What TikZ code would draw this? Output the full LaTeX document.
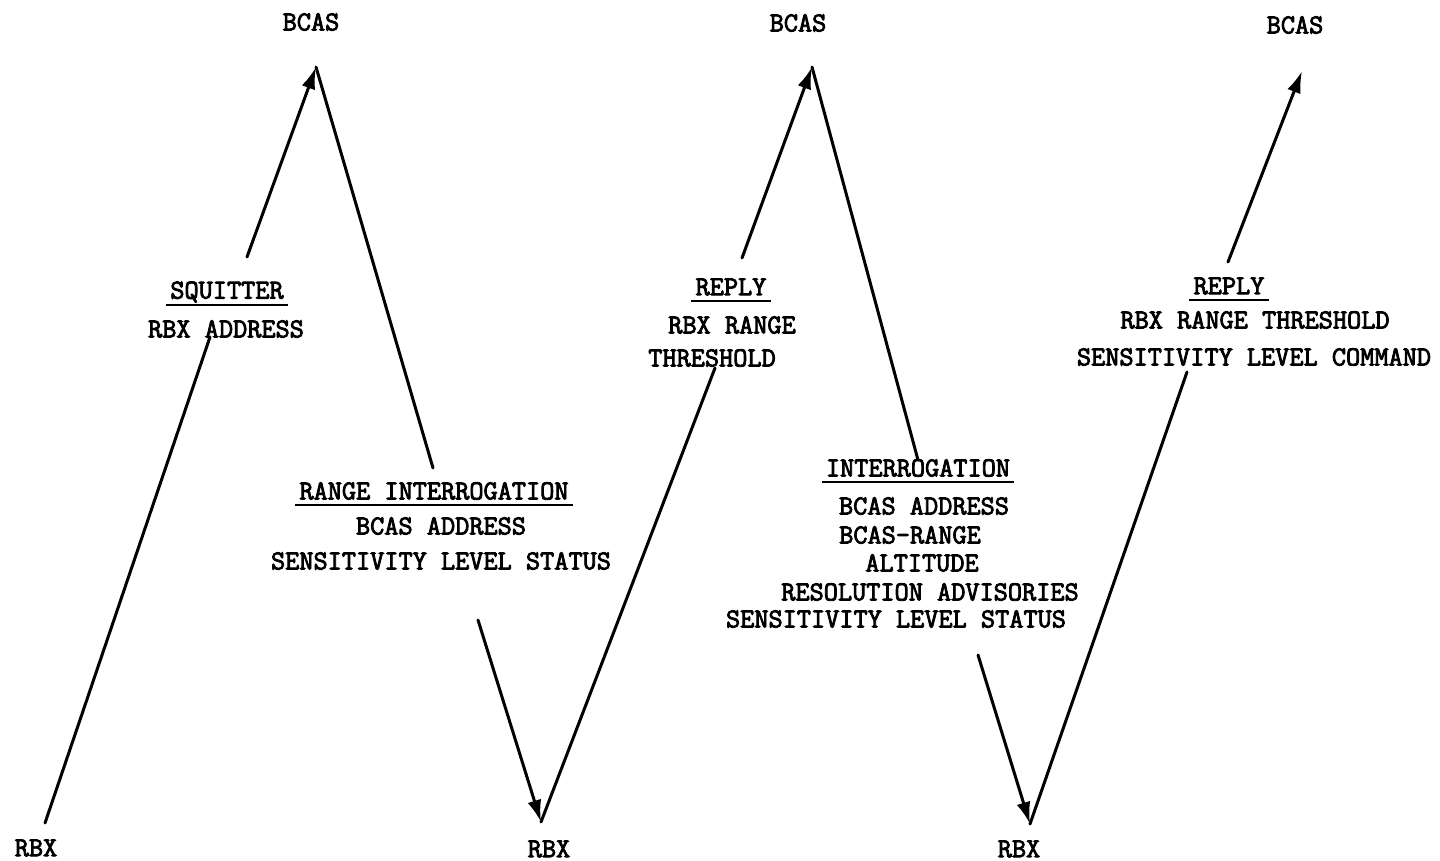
\documentclass[tikz,border=0pt]{standalone}
\usepackage{fontspec}
\setmonofont[FakeBold=3]{Latin Modern Mono}
\usetikzlibrary{arrows.meta}
\begin{document}
\begin{tikzpicture}[x=1pt,y=-1pt,
  lbl/.style={font=\ttfamily\fontsize{27.5}{31}\selectfont,inner sep=0pt,anchor=center},
  conn/.style={line width=3pt,line cap=round},
  arr/.style={conn,-{Latex[length=22pt,width=14pt]}},
  uline/.style={line width=2pt}]
\useasboundingbox[fill=white] (0,0) rectangle (1440,861);
% end points
\node[lbl] (bcasA) at (311,22) {BCAS};
\node[lbl] (bcasB) at (798,23) {BCAS};
\node[lbl] (bcasC) at (1295,25) {BCAS};
\node[lbl] (rbxA) at (36,848) {RBX};
\node[lbl] (rbxB) at (549,849) {RBX};
\node[lbl] (rbxC) at (1019,849) {RBX};
% tips
\coordinate (tA) at (316,67);
\coordinate (tB) at (812,67);
\coordinate (tC) at (1302,71);
\coordinate (bA) at (45,823);
\coordinate (bB) at (541,822);
\coordinate (bC) at (1030,824);
% gap coordinates
\coordinate (g1a) at (210,337); \coordinate (g1b) at (247,257);
\coordinate (g2a) at (433,468); \coordinate (g2b) at (478,620);
\coordinate (g3a) at (715,368); \coordinate (g3b) at (742,258);
\coordinate (g4a) at (918,460); \coordinate (g4b) at (978,655);
\coordinate (g5a) at (1187,372); \coordinate (g5b) at (1228,262);
% connectors
\draw[conn] (bA) -- (g1a);
\draw[arr] (g1b) -- (tA);
\draw[conn] (tA) -- (g2a);
\draw[arr] (g2b) -- (bB);
\draw[conn] (bB) -- (g3a);
\draw[arr] (g3b) -- (tB);
\draw[conn] (tB) -- (g4a);
\draw[arr] (g4b) -- (bC);
\draw[conn] (bC) -- (g5a);
\draw[arr] (g5b) -- (tC);
% label 1
\node[lbl] (sq) at (227,292) {SQUITTER};
\node[lbl] (sq1) at (226,329) {RBX ADDRESS};
% label 2
\node[lbl] (ri) at (434,491) {RANGE INTERROGATION};
\node[lbl] (ri1) at (441,526) {BCAS ADDRESS};
\node[lbl] (ri2) at (441,561) {SENSITIVITY LEVEL STATUS};
% label 3
\node[lbl] (rp) at (731,287) {REPLY};
\node[lbl] (rp1) at (732,325) {RBX RANGE};
\node[lbl] (rp2) at (712,358) {THRESHOLD};
% label 4
\node[lbl] (in) at (918,468) {INTERROGATION};
\node[lbl] (in1) at (924,506) {BCAS ADDRESS};
\node[lbl] (in2) at (910,535) {BCAS-RANGE};
\node[lbl] (in3) at (922,563) {ALTITUDE};
\node[lbl] (in4) at (930,592) {RESOLUTION ADVISORIES};
\node[lbl] (in5) at (896,619) {SENSITIVITY LEVEL STATUS};
% label 5
\node[lbl] (rq) at (1229,286) {REPLY};
\node[lbl] (rq1) at (1255,320) {RBX RANGE THRESHOLD};
\node[lbl] (rq2) at (1254,357) {SENSITIVITY LEVEL COMMAND};
% underlines
\foreach \n in {sq,ri,rp,in,rq}{
  \draw[uline] ([xshift=-4pt,yshift=-6pt]\n.base west) -- ([xshift=4pt,yshift=-6pt]\n.base east);
}
\end{tikzpicture}
\end{document}
